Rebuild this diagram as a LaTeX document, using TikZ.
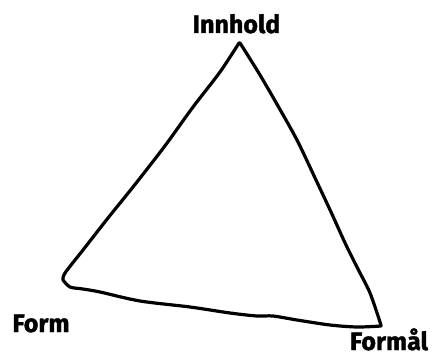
\documentclass[tikz,border=0pt]{standalone}
\usepackage{fontspec}
\newfontfamily\lblfont[BoldFeatures={FakeBold=1.5}]{Fira Sans}
\begin{document}
\begin{tikzpicture}[x=1pt,y=-1pt,
  lbl/.style={font=\lblfont\bfseries\fontsize{25}{28}\selectfont, inner sep=0pt, anchor=base},
  edge/.style={line width=3.2pt, line join=round, line cap=round}]
\useasboundingbox (0,0) rectangle (433,358);
\fill[white] (0,0) rectangle (433,358);
\coordinate (top) at (239,43);
\coordinate (left) at (63,280);
\coordinate (right) at (381,326);
\node[lbl] (innhold) at (236.5,33) {Innhold};
\node[lbl] (form) at (41,332) {Form};
\node[lbl] (formal) at (389,350) {Formål};
\draw[edge] plot[smooth,tension=0.5] coordinates {(top) (220,72) (193,107) (170,139) (158,155) (133,187) (108,218) (83,250) (65,273) (left)}
  -- plot[smooth,tension=0.5] coordinates {(left) (70,287) (83,289) (100,292) (140,301) (190,307) (230,313) (257,316) (273,316) (297,320) (330,325) (357,327) (right)}
  -- plot[smooth,tension=0.5] coordinates {(right) (380,322) (370,293) (359,271) (346,245) (331,212) (316,180) (298,142) (282,113) (260,75) (240,43)}
  -- cycle;
\end{tikzpicture}
\end{document}
